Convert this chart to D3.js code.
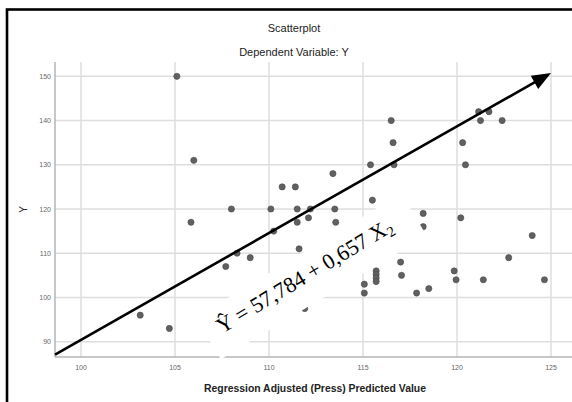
<!DOCTYPE html>
<html>
<head>
<meta charset="utf-8">
<script src="https://cdn.jsdelivr.net/npm/d3@7"></script>
<style>
  html, body { margin: 0; padding: 0; background: #fff; }
  svg { display: block; }
</style>
</head>
<body>
<svg id="chart" width="572" height="402"></svg>
<script>
// ---- data ----
const predicted = [105.1, 106.0, 105.85, 108.0, 110.1, 110.7, 111.4, 111.5, 111.5, 112.1,
  112.2, 113.5, 113.55, 113.4, 110.25, 111.6, 108.3, 109.0, 107.7, 103.15,
  104.7, 115.4, 116.65, 116.6, 116.5, 115.5, 118.2, 118.2, 120.3, 120.45,
  120.2, 121.15, 121.7, 121.25, 122.4, 124.0, 122.75, 117.0, 117.05, 115.7,
  115.7, 115.7, 115.7, 115.07, 115.07, 117.85, 118.5, 119.85, 119.95, 121.4,
  124.65, 111.9];
const observed = [150, 131, 117, 120, 120, 125, 125, 120, 117, 118,
  120, 120, 117, 128, 115, 111, 110, 109, 107, 96,
  93, 130, 130, 135, 140, 122, 119, 116, 135, 130,
  118, 142, 142, 140, 140, 114, 109, 108, 105, 106,
  105.2, 104.4, 103.6, 103, 101, 101, 102, 106, 104, 104,
  104, 97.5];
const xTicks = [100, 105, 110, 115, 120, 125];
const yTicks = [90, 100, 110, 120, 130, 140, 150];
const titleText = "Scatterplot";
const subtitleText = "Dependent Variable: Y";
const xTitle = "Regression Adjusted (Press) Predicted Value";
const yTitle = "Y";
// annotation arrow (data units) and equation label anchor
const arrowX = [98.62, 125.0];
const arrowY = [87.1, 150.75];
const labelAnchor = [107.5, 91.74];

const svg = d3.select("#chart");
const plot = { left: 55, right: 572, top: 62, bottom: 357 };

const x = d3.scaleLinear().domain([100, 125]).range([81, 551]);
const y = d3.scaleLinear().domain([90, 150]).range([341.7, 76.3]);

// outer frame
svg.append("rect").attr("x", 7).attr("y", 9.5).attr("width", 620).attr("height", 500)
  .attr("fill", "none").attr("stroke", "#000").attr("stroke-width", 2.6);

// titles
const sans = "'Liberation Sans', Arial, sans-serif";
svg.append("text").attr("x", 294).attr("y", 32).attr("text-anchor", "middle")
  .attr("font-family", sans).attr("font-size", 11).attr("fill", "#222").text(titleText);
svg.append("text").attr("x", 294).attr("y", 56).attr("text-anchor", "middle")
  .attr("font-family", sans).attr("font-size", 11).attr("fill", "#222").text(subtitleText);

// gridlines
const grid = svg.append("g");
grid.selectAll("line.v").data(xTicks).join("line")
  .attr("x1", d => x(d)).attr("x2", d => x(d))
  .attr("y1", plot.top).attr("y2", plot.bottom)
  .attr("stroke", "#dedede").attr("stroke-width", 1.5);
grid.selectAll("line.h").data(yTicks).join("line")
  .attr("x1", plot.left).attr("x2", plot.right)
  .attr("y1", d => y(d)).attr("y2", d => y(d))
  .attr("stroke", "#dedede").attr("stroke-width", 1.5);

// axes lines
svg.append("line").attr("x1", plot.left).attr("x2", plot.left)
  .attr("y1", plot.top).attr("y2", plot.bottom).attr("stroke", "#b5b5b5").attr("stroke-width", 1.5);
svg.append("line").attr("x1", plot.left).attr("x2", plot.right)
  .attr("y1", plot.bottom).attr("y2", plot.bottom).attr("stroke", "#b5b5b5").attr("stroke-width", 1.5);

// tick labels
svg.append("g").selectAll("text").data(xTicks).join("text")
  .attr("x", d => x(d)).attr("y", 369.5).attr("text-anchor", "middle")
  .attr("font-family", sans).attr("font-size", 7).attr("fill", "#666").text(d => d);
svg.append("g").selectAll("text").data(yTicks).join("text")
  .attr("x", 51).attr("y", d => y(d) + 2.5).attr("text-anchor", "end")
  .attr("font-family", sans).attr("font-size", 7).attr("fill", "#666").text(d => d);

// axis titles
svg.append("text").attr("x", 315).attr("y", 392).attr("text-anchor", "middle")
  .attr("font-family", sans).attr("font-size", 10.4).attr("font-weight", "bold")
  .attr("fill", "#222").text(xTitle);
svg.append("text").attr("transform", "translate(27,209.3) rotate(-90)")
  .attr("text-anchor", "middle").attr("font-family", sans).attr("font-size", 10)
  .attr("fill", "#222").text(yTitle);

// points
const pts = predicted.map((p, i) => ({ p, o: observed[i] }));
svg.append("g").selectAll("circle").data(pts).join("circle")
  .attr("cx", d => x(d.p)).attr("cy", d => y(d.o)).attr("r", 3.1)
  .attr("fill", "#606060").attr("stroke", "#4a4a4a").attr("stroke-width", 0.6);

// equation label with white background
const ax = x(labelAnchor[0]), ay = y(labelAnchor[1]);
const lab = svg.append("g").attr("transform", `translate(${ax},${ay}) rotate(-31)`);
lab.append("rect").attr("x", -14).attr("y", -28).attr("width", 240).attr("height", 49)
  .attr("fill", "#fff");
const t = lab.append("text").attr("x", 0).attr("y", 0)
  .attr("font-family", "'Liberation Serif', 'Times New Roman', serif")
  .attr("font-size", 22).attr("fill", "#000");
t.append("tspan").text("\u0176 = 57,784 + 0,657 X");
t.append("tspan").attr("font-size", 14.5).attr("dy", 4).text("2");

// arrow
const x0 = x(arrowX[0]), y0 = y(arrowY[0]), x1 = x(arrowX[1]), y1 = y(arrowY[1]);
const ang = Math.atan2(y1 - y0, x1 - x0);
const headLen = 19, headW = 7.5;
const bx = x1 - headLen * Math.cos(ang), by = y1 - headLen * Math.sin(ang);
svg.append("line").attr("x1", x0).attr("y1", y0).attr("x2", bx + 2 * Math.cos(ang)).attr("y2", by + 2 * Math.sin(ang))
  .attr("stroke", "#000").attr("stroke-width", 2.6);
const px = -Math.sin(ang), py = Math.cos(ang);
svg.append("path")
  .attr("d", `M${x1},${y1} L${bx + headW * px},${by + headW * py} L${bx - headW * px},${by - headW * py} Z`)
  .attr("fill", "#000");
</script>
</body>
</html>
